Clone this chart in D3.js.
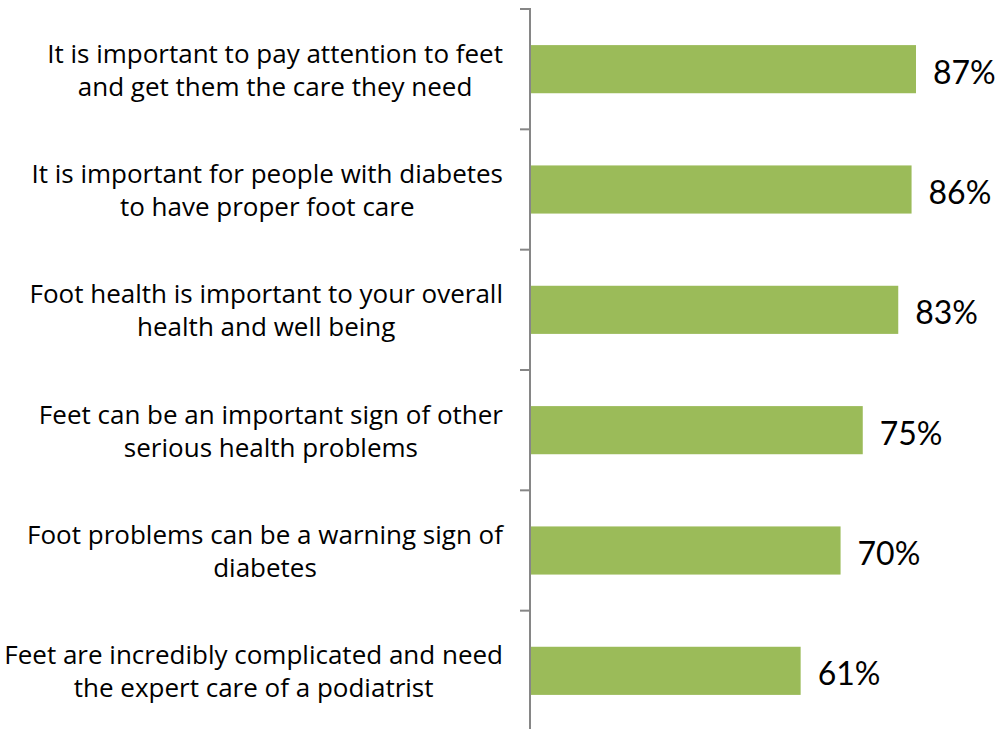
<!DOCTYPE html>
<html>
<head>
<meta charset="utf-8">
<script src="https://cdn.jsdelivr.net/npm/d3@7"></script>
<style>
  html, body { margin: 0; padding: 0; background: #fff; }
  svg { display: block; }
</style>
</head>
<body>
<svg id="chart" width="998" height="729"></svg>
<script>
// Statements and share of respondents agreeing
const categories = [
  ["It is important to pay attention to feet", "and get them the care they need"],
  ["It is important for people with diabetes", "to have proper foot care"],
  ["Foot health is important to your overall", "health and well being"],
  ["Feet can be an important sign of other", "serious health problems"],
  ["Foot problems can be a warning sign of", "diabetes"],
  ["Feet are incredibly complicated and need", "the expert care of a podiatrist"]
];
const values = [87, 86, 83, 75, 70, 61];
const valueLabels = ["87%", "86%", "83%", "75%", "70%", "61%"];

const svg = d3.select("#chart");
const axisX = 530;
const labelFont = "'Open Sans', Lato, sans-serif";
const valueFont = "Lato, 'Open Sans', sans-serif";

const keys = d3.range(categories.length);
const y = d3.scaleBand().domain(keys).range([9, 731]).paddingInner(0.6).paddingOuter(0.3);
const x = d3.scaleLinear().domain([0, 87]).range([axisX, 916]);

// bars
svg.append("g").selectAll("rect")
  .data(keys)
  .join("rect")
  .attr("x", x(0))
  .attr("y", i => y(i))
  .attr("width", i => x(values[i]) - x(0))
  .attr("height", y.bandwidth())
  .attr("fill", "#9BBB59");

// category axis: line plus tick marks between categories
const step = y.step();
const bandEdges = d3.range(categories.length + 1).map(i => 9 + i * step);
const axis = svg.append("g").attr("stroke", "#868686").attr("stroke-width", 2);
axis.append("line").attr("x1", axisX).attr("x2", axisX).attr("y1", 8).attr("y2", 731);
axis.selectAll("line.tick").data(bandEdges).join("line")
  .attr("class", "tick")
  .attr("x1", axisX - 10).attr("x2", axisX)
  .attr("y1", d => d).attr("y2", d => d);

// two-line category labels, lines centred on each other, block right-aligned
const labelRight = 503;
const lab = svg.append("g").attr("font-family", labelFont).attr("font-size", 26).attr("fill", "#000");
keys.forEach(i => {
  const cy = y(i) + y.bandwidth() / 2;
  const g = lab.append("g");
  const texts = categories[i].map((t, j) =>
    g.append("text").text(t)
      .attr("text-anchor", "middle")
      .attr("dominant-baseline", "central")
      .attr("y", cy + (j - 0.5) * 33)
  );
  const maxW = d3.max(texts, t => t.node().getComputedTextLength());
  texts.forEach(t => t.attr("x", labelRight - maxW / 2));
});

// value labels
svg.append("g").selectAll("text")
  .data(keys)
  .join("text")
  .attr("x", i => x(values[i]) + 17)
  .attr("y", i => y(i) + y.bandwidth() / 2 + 2)
  .attr("dominant-baseline", "central")
  .attr("font-family", valueFont)
  .attr("font-size", 32)
  .attr("fill", "#000")
  .text(i => valueLabels[i]);
</script>
</body>
</html>
